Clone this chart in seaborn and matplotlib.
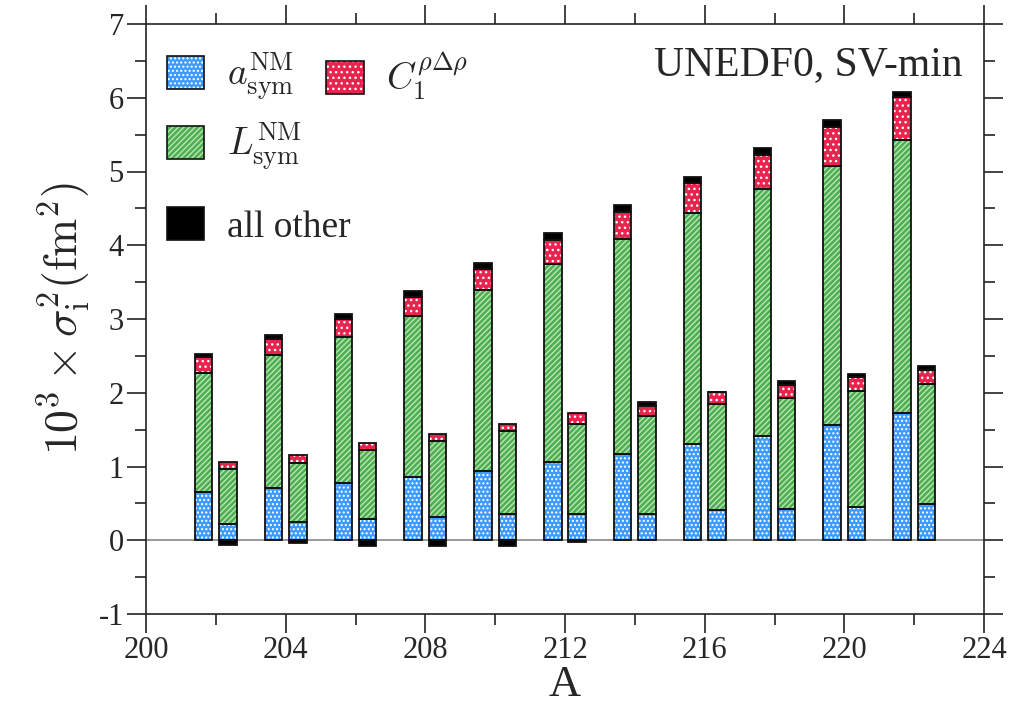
import numpy as np
import pandas as pd
import matplotlib
matplotlib.use("Agg")
import matplotlib.pyplot as plt
from matplotlib.patches import Patch
import seaborn as sns

# ---------------- data ----------------
A = [202, 204, 206, 208, 210, 212, 214, 216, 218, 220, 222]

# UNEDF0 (left bars)
unedf0_asym  = [0.655, 0.71, 0.78, 0.86, 0.94, 1.06, 1.175, 1.30, 1.42, 1.56, 1.73]
unedf0_Lsym  = [1.615, 1.80, 1.98, 2.18, 2.45, 2.69, 2.915, 3.14, 3.34, 3.52, 3.70]
unedf0_C1    = [0.215, 0.22, 0.24, 0.255, 0.29, 0.32, 0.36, 0.40, 0.46, 0.52, 0.58]
unedf0_other = [0.035, 0.05, 0.07, 0.08, 0.08, 0.10, 0.10, 0.09, 0.10, 0.10, 0.07]

# SV-min (right bars)
svmin_asym  = [0.226, 0.244, 0.29, 0.31, 0.35, 0.35, 0.35, 0.41, 0.43, 0.45, 0.49]
svmin_Lsym  = [0.744, 0.806, 0.93, 1.03, 1.13, 1.23, 1.33, 1.44, 1.50, 1.57, 1.63]
svmin_C1    = [0.09, 0.11, 0.10, 0.10, 0.10, 0.15, 0.14, 0.16, 0.18, 0.20, 0.19]
svmin_other = [-0.07, -0.04, -0.08, -0.08, -0.08, -0.02, 0.05, 0.005, 0.05, 0.03, 0.05]

labels = [r"$a_{\rm sym}^{\rm NM}$", r"$L_{\rm sym}^{\rm NM}$",
          r"$C_1^{\rho\Delta\rho}$", "all other"]
annotation = "UNEDF0, SV-min"
xticks = [200, 204, 208, 212, 216, 220, 224]
yticks = [-1, 0, 1, 2, 3, 4, 5, 6, 7]

# ---------------- style ----------------
sns.set_theme(style="ticks")
plt.rcParams["font.family"] = ["Liberation Serif", "DejaVu Serif"]
plt.rcParams["mathtext.fontset"] = "cm"
plt.rcParams["hatch.linewidth"] = 1.0
plt.rcParams["axes.unicode_minus"] = False

BLUE = "#3d9bff"
GREEN = "#4fae4f"
RED = "#e8244e"
BLACK = "#000000"

styles = [
    dict(color=BLUE, hatch="....", hcol="white"),
    dict(color=GREEN, hatch="//////", hcol="#b9e6b9"),
    dict(color=RED, hatch="...", hcol="white"),
    dict(color=BLACK, hatch=None, hcol=BLACK),
]

fig = plt.figure(figsize=(10.21, 7.17), dpi=100)
ax = fig.add_axes([146 / 1021, 103 / 717, 838 / 1021, 590 / 717])

ax.axhline(0, color="#888888", lw=1.2, zorder=1)


def draw_model(offset, comps):
    x = np.array(A, dtype=float) + offset
    bottom_pos = np.zeros(len(A))
    for comp, st in zip(comps, styles):
        vals = np.array(comp, dtype=float)
        bottoms = np.where(vals >= 0, bottom_pos, 0.0)
        df = pd.DataFrame({"x": x, "y": vals})
        # fill + hatch layer
        sns.barplot(data=df, x="x", y="y", native_scale=True, width=0.25,
                    errorbar=None, ax=ax, bottom=bottoms, color=st["color"],
                    saturation=1, facecolor=st["color"], edgecolor=st["hcol"],
                    hatch=st["hatch"], linewidth=0, zorder=2)
        # outline layer
        sns.barplot(data=df, x="x", y="y", native_scale=True, width=0.25,
                    errorbar=None, ax=ax, bottom=bottoms, color="black",
                    saturation=1, facecolor="none", edgecolor="#111111",
                    linewidth=1.3, zorder=3)
        bottom_pos = bottom_pos + np.where(vals >= 0, vals, 0.0)


draw_model(-0.35, [unedf0_asym, unedf0_Lsym, unedf0_C1, unedf0_other])
draw_model(+0.35, [svmin_asym, svmin_Lsym, svmin_C1, svmin_other])

# ---------------- axes ----------------
ax.set_xlim(200, 224)
ax.set_ylim(-1, 7)
ax.set_xticks(xticks)
ax.set_xticks(np.arange(202, 224, 4), minor=True)
ax.set_yticks(yticks)
ax.set_yticks(np.arange(-0.5, 7, 1.0), minor=True)
ax.tick_params(which="major", direction="out", length=14, width=1.2,
               top=True, right=True, labelsize=22, pad=2, color="#222222")
ax.tick_params(which="minor", direction="out", length=8, width=1.2,
               top=True, right=True, color="#222222")
for s in ax.spines.values():
    s.set_linewidth(1.2)
    s.set_color("#222222")
ax.set_xlabel("A", fontsize=32, labelpad=0)
ax.set_ylabel(r"$10^3\times\sigma_{\rm i}^2({\rm fm}^2)$", fontsize=33, labelpad=4)

ax.text(0.975, 0.963, annotation, transform=ax.transAxes, ha="right",
        va="top", fontsize=30)

# ---------------- legends ----------------
def handle(st):
    fill = Patch(facecolor=st["color"], edgecolor=st["hcol"],
                 hatch=st["hatch"], linewidth=0)
    edge = Patch(facecolor="none", edgecolor="#111111", linewidth=1.2)
    return (fill, edge)

leg_kw = dict(frameon=False, fontsize=27, handlelength=1.0, handleheight=1.0,
              handletextpad=0.6, borderpad=0, borderaxespad=0)

leg1 = ax.legend([handle(styles[0]), handle(styles[1])], labels[:2],
                 loc="upper left", bbox_to_anchor=(0.025, 0.955),
                 labelspacing=0.5, **leg_kw)
ax.add_artist(leg1)
leg2 = ax.legend([handle(styles[2])], [labels[2]],
                 loc="upper left", bbox_to_anchor=(0.215, 0.955), **leg_kw)
ax.add_artist(leg2)
leg3 = ax.legend([handle(styles[3])], [labels[3]],
                 loc="upper left", bbox_to_anchor=(0.025, 0.69), **leg_kw)

fig.savefig("out.png", dpi=100)
